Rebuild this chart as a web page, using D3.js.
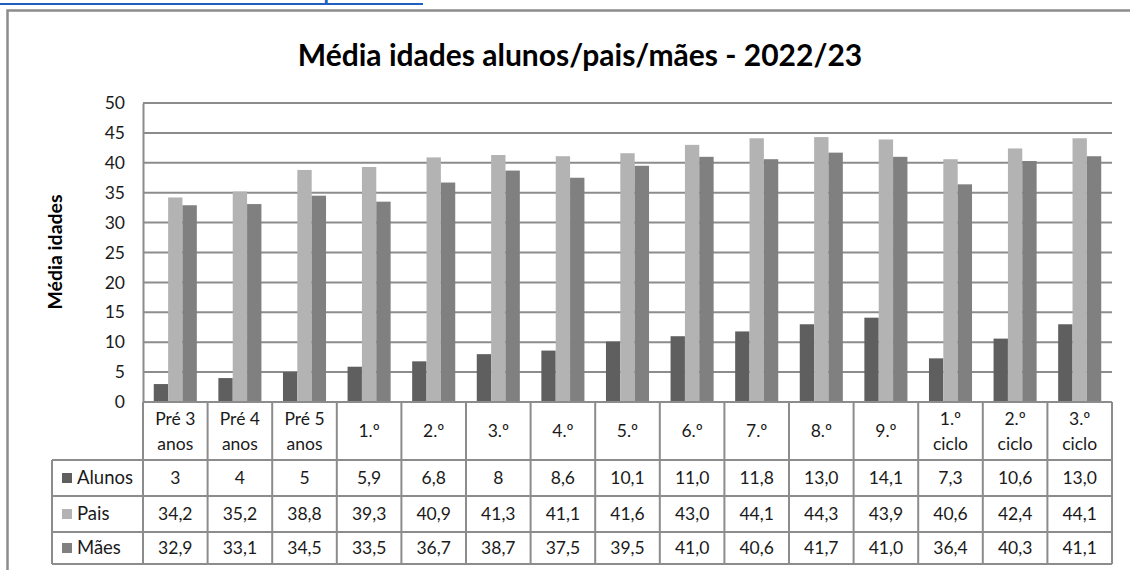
<!DOCTYPE html>
<html>
<head>
<meta charset="utf-8">
<script src="https://cdn.jsdelivr.net/npm/d3@7"></script>
<style>
  body { margin: 0; background: #fff; }
  text { font-family: Lato, "Open Sans", sans-serif; fill: #1a1a1a; }
</style>
</head>
<body>
<script>

// categories (header lines as drawn in the data table)
var categories = ["Pré 3 anos", "Pré 4 anos", "Pré 5 anos", "1.º", "2.º", "3.º", "4.º",
  "5.º", "6.º", "7.º", "8.º", "9.º", "1.º ciclo", "2.º ciclo", "3.º ciclo"]
var categoryLines = [["Pré 3", "anos"], ["Pré 4", "anos"], ["Pré 5", "anos"], ["1.º"], ["2.º"], ["3.º"], ["4.º"],
  ["5.º"], ["6.º"], ["7.º"], ["8.º"], ["9.º"], ["1.º", "ciclo"], ["2.º", "ciclo"], ["3.º", "ciclo"]]

// values as printed in the table
var alunos = ["3", "4", "5", "5,9", "6,8", "8", "8,6", "10,1", "11,0", "11,8", "13,0", "14,1", "7,3", "10,6", "13,0"]
var pais   = ["34,2", "35,2", "38,8", "39,3", "40,9", "41,3", "41,1", "41,6", "43,0", "44,1", "44,3", "43,9", "40,6", "42,4", "44,1"]
var maes   = ["32,9", "33,1", "34,5", "33,5", "36,7", "38,7", "37,5", "39,5", "41,0", "40,6", "41,7", "41,0", "36,4", "40,3", "41,1"]

var seriesNames = ["Alunos", "Pais", "Mães"]
var seriesColors = ["#5f5f5f", "#b3b3b3", "#808080"]
var yTicks = [0, 5, 10, 15, 20, 25, 30, 35, 40, 45, 50]

var series = [alunos, pais, maes]
var num = function(s) { return +s.replace(",", ".") }

var width = 1130, height = 570
var plotLeft = 143, plotRight = 1112, plotTop = 103, plotBottom = 402
var legendLeft = 52
var rowLines = [402, 460, 496, 532, 564]
var lineColor = "#8c8c8c"
var tableFont = "17.5px"

var svg = d3.select("body").append("svg")
    .attr("width", width)
    .attr("height", height)

var x = d3.scaleBand()
    .domain(categories)
    .range([plotLeft, plotRight])

var xSeries = d3.scaleBand()
    .domain(seriesNames)
    .range([0, x.bandwidth()])
    .paddingInner(0)
    .paddingOuter(0.75)

var y = d3.scaleLinear()
    .domain([0, 50])
    .range([plotBottom, plotTop])

// link text cut at the top of the picture
svg.append("text")
    .attr("x", 423)
    .attr("y", -1)
    .attr("text-anchor", "end")
    .style("font-size", "22px")
    .style("font-weight", "bold")
    .style("fill", "#1f5fbf")
    .text("Média de idades dos alunos/pais/mães")
svg.append("rect")
    .attr("x", 0).attr("y", 3)
    .attr("width", 423).attr("height", 2)
    .attr("fill", "#1f5fbf")

// chart frame
svg.append("path")
    .attr("d", "M7.5," + height + "V10.5H" + width)
    .attr("fill", "none")
    .attr("stroke", lineColor)
    .attr("stroke-width", 2.5)

// title
svg.append("text")
    .attr("x", 580)
    .attr("y", 66)
    .attr("text-anchor", "middle")
    .style("font-size", "30px")
    .style("font-weight", "bold")
    .style("fill", "#000")
    .text("Média idades alunos/pais/mães - 2022/23")

// y axis title
svg.append("text")
    .attr("transform", "translate(62,252) rotate(-90)")
    .attr("text-anchor", "middle")
    .style("font-size", "19.5px")
    .style("font-weight", "bold")
    .style("fill", "#000")
    .text("Média idades")

// gridlines
svg.append("g").selectAll("line")
    .data(yTicks.filter(function(d) { return d > 0 }))
  .enter().append("line")
    .attr("x1", plotLeft).attr("x2", plotRight)
    .attr("y1", function(d) { return y(d) }).attr("y2", function(d) { return y(d) })
    .attr("stroke", lineColor)
    .attr("stroke-width", 2)

// y axis, ticks hidden, labels only
var yAxis = svg.append("g")
    .attr("transform", "translate(" + plotLeft + ",0)")
    .call(d3.axisLeft(y).tickValues(yTicks).tickSize(0).tickPadding(18))
yAxis.select(".domain")
    .attr("stroke", lineColor)
    .attr("stroke-width", 2)
yAxis.selectAll("text")
    .style("font-family", "Lato, sans-serif")
    .style("font-size", "17.5px")
    .style("fill", "#1a1a1a")

// bars
var groups = svg.append("g").selectAll("g")
    .data(categories)
  .enter().append("g")
    .attr("transform", function(d) { return "translate(" + x(d) + ",0)" })

groups.selectAll("rect")
  .data(function(d, i) {
    return seriesNames.map(function(s, j) { return {name: s, value: num(series[j][i]), color: seriesColors[j]} })
  })
  .enter().append("rect")
    .attr("x", function(d) { return xSeries(d.name) })
    .attr("y", function(d) { return y(d.value) })
    .attr("width", xSeries.bandwidth())
    .attr("height", function(d) { return plotBottom - y(d.value) })
    .attr("fill", function(d) { return d.color })

// data table
var table = svg.append("g")

// horizontal rules
table.selectAll(".hrule")
    .data(rowLines)
  .enter().append("line")
    .attr("class", "hrule")
    .attr("x1", function(d, i) { return i == 0 ? plotLeft : legendLeft })
    .attr("x2", plotRight)
    .attr("y1", function(d) { return d }).attr("y2", function(d) { return d })
    .attr("stroke", lineColor)
    .attr("stroke-width", 2)

// vertical rules
var colEdges = categories.map(function(c) { return x(c) }).concat([plotRight])
table.selectAll(".vrule")
    .data(colEdges)
  .enter().append("line")
    .attr("class", "vrule")
    .attr("x1", function(d) { return d }).attr("x2", function(d) { return d })
    .attr("y1", rowLines[0]).attr("y2", rowLines[4])
    .attr("stroke", lineColor)
    .attr("stroke-width", 2)
table.append("line")
    .attr("x1", legendLeft).attr("x2", legendLeft)
    .attr("y1", rowLines[1]).attr("y2", rowLines[4])
    .attr("stroke", lineColor)
    .attr("stroke-width", 2)

// header labels
var headerMid = (rowLines[0] + rowLines[1]) / 2
categories.forEach(function(c, i) {
  var lines = categoryLines[i]
  table.append("g").selectAll("text")
      .data(lines)
    .enter().append("text")
      .attr("x", x(c) + x.bandwidth() / 2)
      .attr("y", function(d, k) { return headerMid + (k - (lines.length - 1) / 2) * 25 })
      .attr("dy", "0.35em")
      .attr("text-anchor", "middle")
      .style("font-size", tableFont)
      .text(function(d) { return d })
})

// series rows
seriesNames.forEach(function(s, j) {
  var cy = (rowLines[j + 1] + rowLines[j + 2]) / 2
  table.append("rect")
      .attr("x", 62).attr("y", cy - 5)
      .attr("width", 10).attr("height", 10)
      .attr("fill", seriesColors[j])
  table.append("text")
      .attr("x", 77).attr("y", cy)
      .attr("dy", "0.35em")
      .style("font-size", "18.5px")
      .text(s)
  table.append("g").selectAll("text")
      .data(series[j])
    .enter().append("text")
      .attr("x", function(d, i) { return x(categories[i]) + x.bandwidth() / 2 })
      .attr("y", cy)
      .attr("dy", "0.35em")
      .attr("text-anchor", "middle")
      .style("font-size", tableFont)
      .text(function(d) { return d })
})

</script>
</body>
</html>
